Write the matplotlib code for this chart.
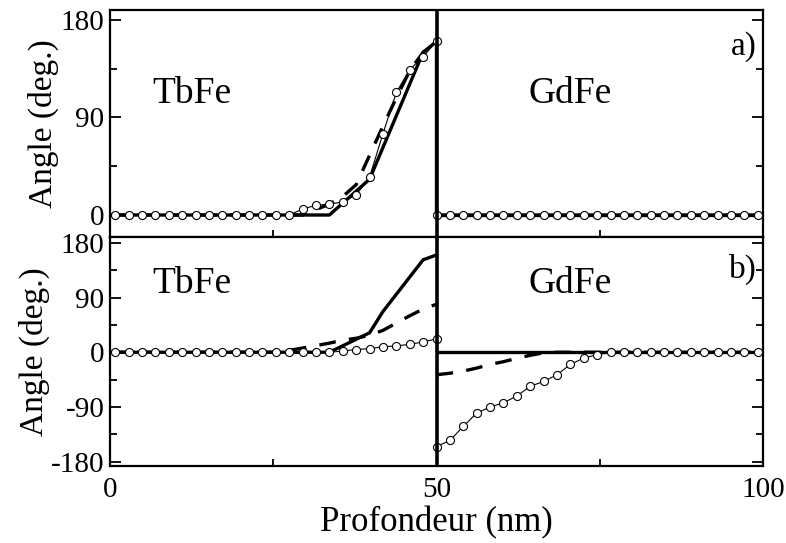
import numpy as np
import matplotlib
matplotlib.use("Agg")
from matplotlib import pyplot as plt
from matplotlib.ticker import MultipleLocator

plt.rcParams['font.family'] = ['Liberation Serif', 'DejaVu Serif']
plt.rcParams['axes.unicode_minus'] = False

# depth grid of the simulation cells (nm)
depth_tbfe = [0.8, 2.85, 4.9, 6.95, 9.0, 11.05, 13.1, 15.15, 17.2, 19.25, 21.3, 23.35,
              25.4, 27.45, 29.5, 31.55, 33.6, 35.65, 37.7, 39.75, 41.8, 43.85, 45.9, 47.95, 50.0]
depth_gdfe = [50.0, 52.05, 54.1, 56.15, 58.2, 60.25, 62.3, 64.35, 66.4, 68.45, 70.5, 72.55,
              74.6, 76.65, 78.7, 80.75, 82.8, 84.85, 86.9, 88.95, 91.0, 93.05, 95.1, 97.15, 99.2]

# a) angles (deg)
a_circ_tbfe = [0, 0, 0, 0, 0, 0, 0, 0, 0, 0, 0, 0,
               0, 0, 5.5, 9, 10, 12, 18.5, 35, 75, 113, 134, 146, 160]
a_circ_gdfe = [0] * 25
a_solid_x = [0, 33.6, 39.75, 47.95, 50.0]
a_solid_y = [0, 0, 33, 150, 160]
a_dash_x = [0, 29.5, 31.55, 33.6, 35.65, 37.7, 39.75, 41.8, 43.85, 45.9, 47.95, 50.0]
a_dash_y = [0, 0, 5, 10, 17, 28, 55, 82, 108, 133, 150, 160]

# b) angles (deg)
b_circ_tbfe = [0, 0, 0, 0, 0, 0, 0, 0, 0, 0, 0, 0,
               0, 0, 0, 0, 0, 2, 4.5, 6, 9, 10.5, 13, 17, 22]
b_circ_gdfe = [-155, -145, -122, -100, -90, -83, -72, -56, -48, -37, -20, -9.5,
               -4, 0, 0, 0, 0, 0, 0, 0, 0, 0, 0, 0, 0]
b_solid_x = [0, 33.6, 39.75, 41.8, 47.95, 50.0]
b_solid_y = [0, 0, 32, 67, 152, 160]
b_dash_x = [0, 25.4, 27.45, 29.5, 31.55, 33.6, 35.65, 37.7, 39.75, 41.8, 43.85, 45.9, 47.95, 50.0]
b_dash_y = [0, 0, 3, 7, 11, 15, 20, 23, 28, 36, 48, 60, 71, 79]
b_dash_gdfe_x = [50.0, 52.05, 54.1, 56.15, 58.2, 60.25, 62.3, 64.35, 66.4, 68.45, 100]
b_dash_gdfe_y = [-37, -34.5, -31, -26, -20, -15.5, -10, -5, -1, 0, 0]

W, H = 786, 543
fig = plt.figure(figsize=(W / 100, H / 100), dpi=100)
ax_a = fig.add_axes([110 / W, 1 - 236.7 / H, 653 / W, 226.7 / H])
ax_b = fig.add_axes([110 / W, 1 - 466 / H, 653 / W, 229.3 / H])

thick = dict(color='black', lw=2.4, solid_capstyle='butt')
circ = dict(color='black', lw=0.8, marker='o', ms=5.8, mfc='white', mec='black', mew=0.8, zorder=4)


def style_axes(ax, ylim, yticks):
    ax.set_xlim(0, 100)
    ax.set_ylim(*ylim)
    ax.set_yticks(yticks)
    ax.xaxis.set_major_locator(MultipleLocator(50))
    ax.xaxis.set_minor_locator(MultipleLocator(25))
    ax.yaxis.set_minor_locator(MultipleLocator(45))
    ax.tick_params(which='both', direction='in', right=True, top=False, width=1.3,
                   labelsize=21, pad=4)
    ax.tick_params(axis='x', pad=8)
    ax.tick_params(which='major', length=8)
    ax.tick_params(which='minor', length=5)
    for s in ax.spines.values():
        s.set_linewidth(1.6)
    ax.set_ylabel('Angle (deg.)', fontsize=24, labelpad=1)
    ax.axvline(50, color='black', lw=2.6, zorder=5)


# panel a
ax_a.plot(a_solid_x + [50, 100], a_solid_y + [0, 0], **thick)
ax_a.plot(a_dash_x, a_dash_y, dashes=(5, 4), **thick)
ax_a.plot([50, 100], [0, 0], **thick)
ax_a.plot(depth_tbfe, a_circ_tbfe, **circ)
ax_a.plot(depth_gdfe, a_circ_gdfe, **circ)
style_axes(ax_a, (-20, 189), [0, 90, 180])
ax_a.tick_params(labelbottom=False)
ax_a.text(12.6, 112, 'TbFe', fontsize=27, ha='center', va='center')
ax_a.text(70.4, 112, 'GdFe', fontsize=27, ha='center', va='center')
ax_a.text(97, 155, 'a)', fontsize=24, ha='center', va='center')

# panel b
ax_b.plot(b_solid_x, b_solid_y, **thick)
ax_b.plot([50, 100], [0, 0], **thick)
ax_b.plot(b_dash_x, b_dash_y, dashes=(5, 4), **thick)
ax_b.plot(b_dash_gdfe_x, b_dash_gdfe_y, dashes=(5, 4), **thick)
ax_b.plot(depth_tbfe, b_circ_tbfe, **circ)
ax_b.plot(depth_gdfe, b_circ_gdfe, **circ)
style_axes(ax_b, (-187, 190), [-180, -90, 0, 90, 180])
ax_b.set_xticks([0, 50, 100])
ax_b.text(12.6, 112, 'TbFe', fontsize=27, ha='center', va='center')
ax_b.text(70.4, 112, 'GdFe', fontsize=27, ha='center', va='center')
ax_b.text(97, 137, 'b)', fontsize=24, ha='center', va='center')
ax_b.set_xlabel('Profondeur (nm)', fontsize=25, labelpad=2)

fig.savefig('out.png', dpi=100)
